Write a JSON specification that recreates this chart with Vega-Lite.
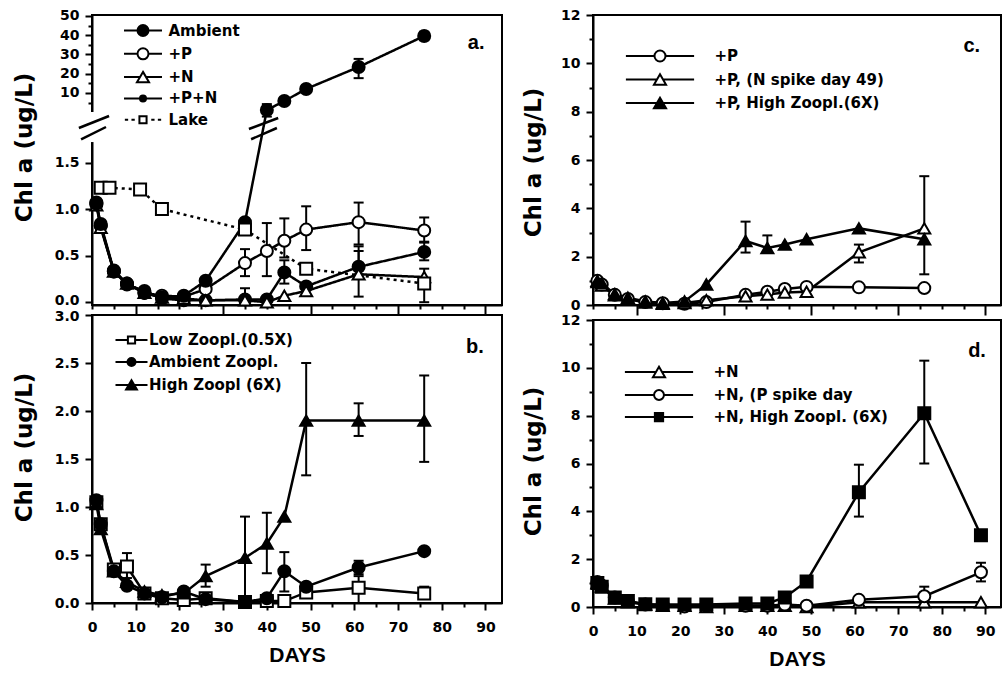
{
"$schema": "https://vega.github.io/schema/vega-lite/v6.json",
"background": "white",
"padding": {"left": 11, "top": 7, "right": 0, "bottom": 0},
"autosize": {"type": "pad"},
"datasets": {
"a": [
{"s":"Ambient","d":1,"v":1.07},{"s":"Ambient","d":2,"v":0.82},{"s":"Ambient","d":5,"v":0.33},{"s":"Ambient","d":8,"v":0.19},{"s":"Ambient","d":12,"v":0.12},{"s":"Ambient","d":16,"v":0.04},{"s":"Ambient","d":21,"v":0.02},{"s":"Ambient","d":26,"v":0.02},{"s":"Ambient","d":35,"v":0.03,"lo":0.0,"hi":0.15},{"s":"Ambient","d":40,"v":0.03},{"s":"Ambient","d":44,"v":0.32,"lo":0.2,"hi":0.45},{"s":"Ambient","d":49,"v":0.17},{"s":"Ambient","d":61,"v":0.38,"lo":0.3,"hi":0.6},{"s":"Ambient","d":76,"v":0.54,"lo":0.45,"hi":0.65},
{"s":"+P","d":1,"v":1.05},{"s":"+P","d":2,"v":0.82},{"s":"+P","d":5,"v":0.33},{"s":"+P","d":8,"v":0.2},{"s":"+P","d":12,"v":0.1},{"s":"+P","d":16,"v":0.07},{"s":"+P","d":21,"v":0.06},{"s":"+P","d":26,"v":0.14},{"s":"+P","d":35,"v":0.42,"lo":0.28,"hi":0.57},{"s":"+P","d":40,"v":0.55,"lo":0.28,"hi":0.85},{"s":"+P","d":44,"v":0.66,"lo":0.48,"hi":0.9},{"s":"+P","d":49,"v":0.78,"lo":0.56,"hi":1.03},{"s":"+P","d":61,"v":0.86,"lo":0.62,"hi":1.07},{"s":"+P","d":76,"v":0.77,"lo":0.64,"hi":0.91},
{"s":"+N","d":1,"v":1.04},{"s":"+N","d":2,"v":0.8},{"s":"+N","d":5,"v":0.33},{"s":"+N","d":8,"v":0.2},{"s":"+N","d":12,"v":0.1},{"s":"+N","d":16,"v":0.05},{"s":"+N","d":21,"v":0.04},{"s":"+N","d":26,"v":0.02},{"s":"+N","d":35,"v":0.02},{"s":"+N","d":40,"v":0.0},{"s":"+N","d":44,"v":0.07},{"s":"+N","d":49,"v":0.12},{"s":"+N","d":61,"v":0.3,"lo":0.06,"hi":0.55},{"s":"+N","d":76,"v":0.27,"lo":0.0,"hi":0.36},
{"s":"+P+N","d":1,"v":1.06},{"s":"+P+N","d":2,"v":0.84},{"s":"+P+N","d":5,"v":0.34},{"s":"+P+N","d":8,"v":0.2},{"s":"+P+N","d":12,"v":0.1},{"s":"+P+N","d":16,"v":0.05},{"s":"+P+N","d":21,"v":0.07},{"s":"+P+N","d":26,"v":0.23},{"s":"+P+N","d":35,"v":0.86},{"s":"+P+N","d":40,"v":4.26,"lo":3.6,"hi":4.85},{"s":"+P+N","d":44,"v":5.8,"lo":5.0,"hi":6.6},{"s":"+P+N","d":49,"v":12.1,"lo":11.2,"hi":13.0},{"s":"+P+N","d":61,"v":23.5,"lo":17.7,"hi":27.7},{"s":"+P+N","d":76,"v":39.6,"lo":37.4,"hi":41.8},
{"s":"Lake","d":2,"v":1.23},{"s":"Lake","d":4,"v":1.23},{"s":"Lake","d":11,"v":1.21},{"s":"Lake","d":16,"v":1.0},{"s":"Lake","d":35,"v":0.78},{"s":"Lake","d":49,"v":0.36},{"s":"Lake","d":76,"v":0.2}
],
"b": [
{"s":"Low Zoopl.(0.5X)","d":1,"v":1.05},{"s":"Low Zoopl.(0.5X)","d":2,"v":0.82},{"s":"Low Zoopl.(0.5X)","d":5,"v":0.35},{"s":"Low Zoopl.(0.5X)","d":8,"v":0.38,"lo":0.26,"hi":0.52},{"s":"Low Zoopl.(0.5X)","d":12,"v":0.1},{"s":"Low Zoopl.(0.5X)","d":16,"v":0.05},{"s":"Low Zoopl.(0.5X)","d":21,"v":0.03},{"s":"Low Zoopl.(0.5X)","d":26,"v":0.05},{"s":"Low Zoopl.(0.5X)","d":35,"v":0.01},{"s":"Low Zoopl.(0.5X)","d":40,"v":0.02},{"s":"Low Zoopl.(0.5X)","d":44,"v":0.02},{"s":"Low Zoopl.(0.5X)","d":49,"v":0.11},{"s":"Low Zoopl.(0.5X)","d":61,"v":0.16,"lo":0.0,"hi":0.28},{"s":"Low Zoopl.(0.5X)","d":76,"v":0.1,"lo":0.05,"hi":0.17},
{"s":"Ambient Zoopl.","d":1,"v":1.07},{"s":"Ambient Zoopl.","d":2,"v":0.82},{"s":"Ambient Zoopl.","d":5,"v":0.33},{"s":"Ambient Zoopl.","d":8,"v":0.18},{"s":"Ambient Zoopl.","d":12,"v":0.1},{"s":"Ambient Zoopl.","d":16,"v":0.06},{"s":"Ambient Zoopl.","d":21,"v":0.12},{"s":"Ambient Zoopl.","d":26,"v":0.04},{"s":"Ambient Zoopl.","d":35,"v":0.01},{"s":"Ambient Zoopl.","d":40,"v":0.05},{"s":"Ambient Zoopl.","d":44,"v":0.33,"lo":0.12,"hi":0.53},{"s":"Ambient Zoopl.","d":49,"v":0.17},{"s":"Ambient Zoopl.","d":61,"v":0.37,"lo":0.3,"hi":0.44},{"s":"Ambient Zoopl.","d":76,"v":0.54},
{"s":"High Zoopl (6X)","d":1,"v":1.03},{"s":"High Zoopl (6X)","d":2,"v":0.77},{"s":"High Zoopl (6X)","d":5,"v":0.33},{"s":"High Zoopl (6X)","d":8,"v":0.22},{"s":"High Zoopl (6X)","d":12,"v":0.12},{"s":"High Zoopl (6X)","d":16,"v":0.08},{"s":"High Zoopl (6X)","d":21,"v":0.1},{"s":"High Zoopl (6X)","d":26,"v":0.28,"lo":0.17,"hi":0.4},{"s":"High Zoopl (6X)","d":35,"v":0.47,"lo":0.02,"hi":0.9},{"s":"High Zoopl (6X)","d":40,"v":0.62,"lo":0.31,"hi":0.94},{"s":"High Zoopl (6X)","d":44,"v":0.9},{"s":"High Zoopl (6X)","d":49,"v":1.9,"lo":1.33,"hi":2.5},{"s":"High Zoopl (6X)","d":61,"v":1.9,"lo":1.74,"hi":2.08},{"s":"High Zoopl (6X)","d":76,"v":1.9,"lo":1.47,"hi":2.37}
],
"c": [
{"s":"+P","d":1,"v":1.0},{"s":"+P","d":2,"v":0.85},{"s":"+P","d":5,"v":0.42},{"s":"+P","d":8,"v":0.25},{"s":"+P","d":12,"v":0.12},{"s":"+P","d":16,"v":0.07},{"s":"+P","d":21,"v":0.05},{"s":"+P","d":26,"v":0.12},{"s":"+P","d":35,"v":0.42},{"s":"+P","d":40,"v":0.55},{"s":"+P","d":44,"v":0.66},{"s":"+P","d":49,"v":0.75},{"s":"+P","d":61,"v":0.73},{"s":"+P","d":76,"v":0.7},
{"s":"+P, (N spike day 49)","d":1,"v":0.95},{"s":"+P, (N spike day 49)","d":2,"v":0.8},{"s":"+P, (N spike day 49)","d":5,"v":0.4},{"s":"+P, (N spike day 49)","d":8,"v":0.25},{"s":"+P, (N spike day 49)","d":12,"v":0.1},{"s":"+P, (N spike day 49)","d":16,"v":0.05},{"s":"+P, (N spike day 49)","d":21,"v":0.08},{"s":"+P, (N spike day 49)","d":26,"v":0.2},{"s":"+P, (N spike day 49)","d":35,"v":0.36},{"s":"+P, (N spike day 49)","d":40,"v":0.43},{"s":"+P, (N spike day 49)","d":44,"v":0.52},{"s":"+P, (N spike day 49)","d":49,"v":0.55},{"s":"+P, (N spike day 49)","d":61,"v":2.18,"lo":1.76,"hi":2.5},{"s":"+P, (N spike day 49)","d":76,"v":3.17,"lo":1.27,"hi":5.33},
{"s":"+P, High Zoopl.(6X)","d":1,"v":1.0},{"s":"+P, High Zoopl.(6X)","d":2,"v":0.9},{"s":"+P, High Zoopl.(6X)","d":5,"v":0.45},{"s":"+P, High Zoopl.(6X)","d":8,"v":0.3},{"s":"+P, High Zoopl.(6X)","d":12,"v":0.15},{"s":"+P, High Zoopl.(6X)","d":16,"v":0.08},{"s":"+P, High Zoopl.(6X)","d":21,"v":0.15},{"s":"+P, High Zoopl.(6X)","d":26,"v":0.85},{"s":"+P, High Zoopl.(6X)","d":35,"v":2.65,"lo":2.17,"hi":3.45},{"s":"+P, High Zoopl.(6X)","d":40,"v":2.36,"lo":2.2,"hi":2.88},{"s":"+P, High Zoopl.(6X)","d":44,"v":2.5},{"s":"+P, High Zoopl.(6X)","d":49,"v":2.72},{"s":"+P, High Zoopl.(6X)","d":61,"v":3.17},{"s":"+P, High Zoopl.(6X)","d":76,"v":2.72}
],
"d": [
{"s":"+N","d":1,"v":1.0},{"s":"+N","d":2,"v":0.85},{"s":"+N","d":5,"v":0.35},{"s":"+N","d":8,"v":0.2},{"s":"+N","d":12,"v":0.1},{"s":"+N","d":16,"v":0.05},{"s":"+N","d":21,"v":0.05},{"s":"+N","d":26,"v":0.0},{"s":"+N","d":35,"v":0.05},{"s":"+N","d":40,"v":0.05},{"s":"+N","d":44,"v":0.05},{"s":"+N","d":49,"v":0.0},{"s":"+N","d":61,"v":0.2},{"s":"+N","d":76,"v":0.2},{"s":"+N","d":89,"v":0.2},
{"s":"+N, (P spike day","d":1,"v":1.05},{"s":"+N, (P spike day","d":2,"v":0.9},{"s":"+N, (P spike day","d":5,"v":0.4},{"s":"+N, (P spike day","d":8,"v":0.25},{"s":"+N, (P spike day","d":12,"v":0.1},{"s":"+N, (P spike day","d":16,"v":0.08},{"s":"+N, (P spike day","d":21,"v":0.02},{"s":"+N, (P spike day","d":26,"v":0.05},{"s":"+N, (P spike day","d":35,"v":0.05},{"s":"+N, (P spike day","d":40,"v":0.05},{"s":"+N, (P spike day","d":44,"v":0.1},{"s":"+N, (P spike day","d":49,"v":0.05},{"s":"+N, (P spike day","d":61,"v":0.3},{"s":"+N, (P spike day","d":76,"v":0.45,"lo":0.1,"hi":0.85},{"s":"+N, (P spike day","d":89,"v":1.45,"lo":1.07,"hi":1.85},
{"s":"+N, High Zoopl. (6X)","d":1,"v":1.0},{"s":"+N, High Zoopl. (6X)","d":2,"v":0.85},{"s":"+N, High Zoopl. (6X)","d":5,"v":0.4},{"s":"+N, High Zoopl. (6X)","d":8,"v":0.25},{"s":"+N, High Zoopl. (6X)","d":12,"v":0.12},{"s":"+N, High Zoopl. (6X)","d":16,"v":0.1},{"s":"+N, High Zoopl. (6X)","d":21,"v":0.1},{"s":"+N, High Zoopl. (6X)","d":26,"v":0.1},{"s":"+N, High Zoopl. (6X)","d":35,"v":0.15},{"s":"+N, High Zoopl. (6X)","d":40,"v":0.15},{"s":"+N, High Zoopl. (6X)","d":44,"v":0.4},{"s":"+N, High Zoopl. (6X)","d":49,"v":1.07},{"s":"+N, High Zoopl. (6X)","d":61,"v":4.8,"lo":3.78,"hi":5.95},{"s":"+N, High Zoopl. (6X)","d":76,"v":8.1,"lo":6.0,"hi":10.3},{"s":"+N, High Zoopl. (6X)","d":89,"v":3.0}
]
},
"hconcat": [
{
"vconcat": [
{
"width": 410, "height": 290,
"data": {"name": "a"},
"encoding": {
"x": {"field": "d", "type": "quantitative", "scale": {"domain": [0, 93.8], "nice": false, "zero": false},
 "axis": {"values": [0,5,10,15,20,25,30,35,40,45,50,55,60,65,70,75,80,85,90], "labels": false, "title": null, "tickSize": {"condition": {"test": "datum.value % 20 === 10", "value": 10}, "value": 4}}},
"y": {"field": "v", "type": "quantitative", "scale": {"domain": [-0.03, 1.8, 5, 50.5], "range": [290, 119.6, 87.6, 0], "nice": false, "zero": false},
 "axis": {"title": "Chl a (ug/L)", "values": [0,0.5,1,1.5,5,10,15,20,25,30,35,40,45,50], "labelExpr": "datum.value < 2 ? format(datum.value, '.1f') : (datum.value % 10 === 0 ? format(datum.value, 'd') : '')", "tickSize": {"condition": {"test": "datum.value > 2 && datum.value % 10 !== 0", "value": 4}, "value": 7}, "labelOffset": {"condition": {"test": "datum.value === 0", "value": -1.5}, "value": 0}, "labelPadding": 6, "titleX": -68, "titleY": 132, "titleBaseline": "middle"}}
},
"layer": [
{"transform": [{"filter": "datum.s === 'Ambient' && datum.d === 1"}], "mark": {"type": "rule", "color": "white", "strokeWidth": 6}, "encoding": {"x": {"datum": 0}, "y": {"datum": 1.72}, "y2": {"datum": 4.06}}},
{"transform": [{"filter": "datum.s === 'Ambient' && datum.d === 1"}], "mark": {"type": "rule", "color": "black", "strokeWidth": 2.5}, "encoding": {"x": {"datum": -3.0}, "x2": {"datum": 3.9}, "y": {"datum": 2.46}, "y2": {"datum": 3.66}}},
{"transform": [{"filter": "datum.s === 'Ambient' && datum.d === 1"}], "mark": {"type": "rule", "color": "black", "strokeWidth": 2.5}, "encoding": {"x": {"datum": -2.5}, "x2": {"datum": 3.2}, "y": {"datum": 1.75}, "y2": {"datum": 2.56}}},
{"transform": [{"filter": "datum.s === 'Ambient' && datum.d === 1"}], "mark": {"type": "rule", "color": "black", "strokeWidth": 2.5}, "encoding": {"x": {"datum": 35.9}, "x2": {"datum": 42.6}, "y": {"datum": 2.36}, "y2": {"datum": 3.46}}},
{"transform": [{"filter": "datum.s === 'Ambient' && datum.d === 1"}], "mark": {"type": "rule", "color": "black", "strokeWidth": 2.5}, "encoding": {"x": {"datum": 36.4}, "x2": {"datum": 42.3}, "y": {"datum": 1.75}, "y2": {"datum": 2.46}}},
{"transform": [{"filter": "isValid(datum.lo)"}],
 "layer": [
  {"mark": {"type": "rule", "color": "black", "strokeWidth": 2}, "encoding": {"y": {"field": "lo", "type": "quantitative"}, "y2": {"field": "hi"}}},
  {"mark": {"type": "tick", "orient": "horizontal", "color": "black", "thickness": 2, "size": 10, "opacity": 1}, "encoding": {"y": {"field": "lo", "type": "quantitative"}}},
  {"mark": {"type": "tick", "orient": "horizontal", "color": "black", "thickness": 2, "size": 10, "opacity": 1}, "encoding": {"y": {"field": "hi", "type": "quantitative"}}}
 ]},
{"mark": {"type": "line", "color": "black", "strokeWidth": 2.5},
 "encoding": {"strokeDash": {"field": "s", "type": "nominal", "scale": {"domain": ["Ambient","+P","+N","+P+N","Lake"], "range": [[1,0],[1,0],[1,0],[1,0],[3,4]]}, "legend": null}}},
{"mark": {"type": "point", "filled": false, "stroke": "black", "strokeWidth": 2, "opacity": 1},
 "encoding": {
  "shape": {"field": "s", "type": "nominal", "scale": {"domain": ["Ambient","+P","+N","+P+N","Lake"], "range": ["circle","circle","triangle-up","circle","square"]}, "legend": null},
  "fill": {"field": "s", "type": "nominal", "scale": {"domain": ["Ambient","+P","+N","+P+N","Lake"], "range": ["black","white","white","black","white"]}, "legend": null},
  "size": {"field": "s", "type": "ordinal", "scale": {"domain": ["Ambient","+P","+N","+P+N","Lake"], "range": [144,144,169,49,64]}, "legend": null}
 }},
{"data": {"values": []},
 "mark": {"type": "point", "filled": false, "strokeWidth": 2, "opacity": 1, "size": 121},
 "encoding": {
  "shape": {"field": "s", "type": "nominal", "scale": {"domain": ["Ambient","+P","+N","+P+N","Lake"], "range": [
   "M-3.45,0H-1A1,1,0,1,0,1,0A1,1,0,1,0,-1,0M1,0H3.45",
   "M-3.45,0H-1A1,1,0,1,0,1,0A1,1,0,1,0,-1,0M1,0H3.45",
   "M-3.45,0H-0.55M0.55,0H3.45M0,-0.95L1.1,0.95L-1.1,0.95Z",
   "M-3.45,0H-0.55A0.55,0.55,0,1,0,0.55,0A0.55,0.55,0,1,0,-0.55,0M0.55,0H3.45",
   "M-3.3,0H-2.7M-2.1,0H-1.5M-0.65,-0.65H0.65V0.65H-0.65ZM1.5,0H2.1M2.7,0H3.3"]},
   "legend": {"title": null, "orient": "none", "legendX": 31, "legendY": 8, "symbolSize": 121, "symbolOffset": 12.5, "labelOffset": 18, "rowPadding": 4.3, "labelLimit": 300, "symbolStrokeWidth": 2}},
  "fill": {"field": "s", "type": "nominal", "scale": {"domain": ["Ambient","+P","+N","+P+N","Lake"], "range": ["black","white","white","black","white"]},
   "legend": {"title": null, "orient": "none", "legendX": 31, "legendY": 8, "symbolSize": 121, "symbolOffset": 12.5, "labelOffset": 18, "rowPadding": 4.3, "labelLimit": 300, "symbolStrokeWidth": 2}},
  "stroke": {"field": "s", "type": "nominal", "scale": {"domain": ["Ambient","+P","+N","+P+N","Lake"], "range": ["black","black","black","black","black"]},
   "legend": {"title": null, "orient": "none", "legendX": 31, "legendY": 8, "symbolSize": 121, "symbolOffset": 12.5, "labelOffset": 18, "rowPadding": 4.3, "labelLimit": 300, "symbolStrokeWidth": 2}}
 }},
{"transform": [{"filter": "datum.s === 'Ambient' && datum.d === 1"}], "mark": {"type": "text", "font": "Liberation Sans", "fontWeight": "bold", "fontSize": 20, "align": "center", "baseline": "middle", "color": "black"},
 "encoding": {"x": {"datum": 87.9}, "y": {"datum": 36}, "text": {"value": "a."}}}
],
"resolve": {"scale": {"shape": "independent", "fill": "independent", "stroke": "independent"}}
},
{
"width": 410, "height": 288,
"data": {"name": "b"},
"encoding": {
"x": {"field": "d", "type": "quantitative", "scale": {"domain": [0, 93.8], "nice": false, "zero": false},
 "axis": {"title": "DAYS", "values": [0,5,10,15,20,25,30,35,40,45,50,55,60,65,70,75,80,85,90], "labelExpr": "datum.value % 10 === 0 ? datum.label : ''", "tickSize": {"condition": {"test": "datum.value % 10 !== 0", "value": 4}, "value": 7}, "labelPadding": 10, "titleFont": "Liberation Sans", "titleFontSize": 21, "titleFontWeight": "bold", "titlePadding": 10}},
"y": {"field": "v", "type": "quantitative", "scale": {"domain": [0, 3], "nice": false, "zero": false},
 "axis": {"title": "Chl a (ug/L)", "values": [0,0.5,1,1.5,2,2.5,3], "format": ".1f", "tickSize": 7, "labelOffset": {"condition": {"test": "datum.value === 3", "value": 1.5}, "value": 0}, "labelPadding": 6, "titleX": -68, "titleY": 132, "titleBaseline": "middle"}}
},
"layer": [
{"transform": [{"filter": "isValid(datum.lo)"}],
 "layer": [
  {"mark": {"type": "rule", "color": "black", "strokeWidth": 2}, "encoding": {"y": {"field": "lo", "type": "quantitative"}, "y2": {"field": "hi"}}},
  {"mark": {"type": "tick", "orient": "horizontal", "color": "black", "thickness": 2, "size": 10, "opacity": 1}, "encoding": {"y": {"field": "lo", "type": "quantitative"}}},
  {"mark": {"type": "tick", "orient": "horizontal", "color": "black", "thickness": 2, "size": 10, "opacity": 1}, "encoding": {"y": {"field": "hi", "type": "quantitative"}}}
 ]},
{"mark": {"type": "line", "color": "black", "strokeWidth": 2.5}, "encoding": {"detail": {"field": "s"}}},
{"mark": {"type": "point", "filled": false, "stroke": "black", "strokeWidth": 2, "opacity": 1},
 "encoding": {
  "shape": {"field": "s", "type": "nominal", "scale": {"domain": ["Low Zoopl.(0.5X)","Ambient Zoopl.","High Zoopl (6X)"], "range": ["square","circle","triangle-up"]}, "legend": null},
  "fill": {"field": "s", "type": "nominal", "scale": {"domain": ["Low Zoopl.(0.5X)","Ambient Zoopl.","High Zoopl (6X)"], "range": ["white","black","black"]}, "legend": null},
  "size": {"field": "s", "type": "ordinal", "scale": {"domain": ["Low Zoopl.(0.5X)","Ambient Zoopl.","High Zoopl (6X)"], "range": [64,100,144]}, "legend": null}
 }},
{"data": {"values": []},
 "mark": {"type": "point", "filled": false, "strokeWidth": 2, "opacity": 1, "size": 64},
 "encoding": {
  "shape": {"field": "s", "type": "nominal", "scale": {"domain": ["Low Zoopl.(0.5X)","Ambient Zoopl.","High Zoopl (6X)"], "range": [
   "M-4,0H-0.9M0.9,0H4M-0.9,-0.9H0.9V0.9H-0.9Z",
   "M-4,0H-1A1,1,0,1,0,1,0A1,1,0,1,0,-1,0M1,0H4",
   "M-4,0H4M0,-1.2L1.35,1.1L-1.35,1.1Z"]},
   "legend": {"title": null, "orient": "none", "legendX": 21, "legendY": 17.5, "symbolSize": 64, "symbolOffset": 11, "labelOffset": 10, "rowPadding": 5, "labelLimit": 300, "symbolStrokeWidth": 2}},
  "fill": {"field": "s", "type": "nominal", "scale": {"domain": ["Low Zoopl.(0.5X)","Ambient Zoopl.","High Zoopl (6X)"], "range": ["white","black","black"]},
   "legend": {"title": null, "orient": "none", "legendX": 21, "legendY": 17.5, "symbolSize": 64, "symbolOffset": 11, "labelOffset": 10, "rowPadding": 5, "labelLimit": 300, "symbolStrokeWidth": 2}},
  "stroke": {"field": "s", "type": "nominal", "scale": {"domain": ["Low Zoopl.(0.5X)","Ambient Zoopl.","High Zoopl (6X)"], "range": ["black","black","black"]},
   "legend": {"title": null, "orient": "none", "legendX": 21, "legendY": 17.5, "symbolSize": 64, "symbolOffset": 11, "labelOffset": 10, "rowPadding": 5, "labelLimit": 300, "symbolStrokeWidth": 2}}
 }},
{"transform": [{"filter": "datum.s === 'Ambient Zoopl.' && datum.d === 1"}], "mark": {"type": "text", "font": "Liberation Sans", "fontWeight": "bold", "fontSize": 20, "align": "center", "baseline": "middle", "color": "black"},
 "encoding": {"x": {"datum": 87.6}, "y": {"datum": 2.67}, "text": {"value": "b."}}}
],
"resolve": {"scale": {"shape": "independent", "fill": "independent", "stroke": "independent"}}
}
],
"spacing": 10,
"bounds": "flush"
},
{
"vconcat": [
{
"width": 408, "height": 290,
"data": {"name": "c"},
"encoding": {
"x": {"field": "d", "type": "quantitative", "scale": {"domain": [0, 93.6], "nice": false, "zero": false},
 "axis": {"values": [0,5,10,15,20,25,30,35,40,45,50,55,60,65,70,75,80,85,90], "labels": false, "title": null, "tickSize": {"condition": {"test": "datum.value % 20 === 10", "value": 10}, "value": 4}}},
"y": {"field": "v", "type": "quantitative", "scale": {"domain": [0, 12], "nice": false, "zero": false},
 "axis": {"title": "Chl a (ug/L)", "values": [0,1,2,3,4,5,6,7,8,9,10,11,12], "labelExpr": "datum.value % 2 === 0 ? datum.label : ''", "tickSize": {"condition": {"test": "datum.value % 2 !== 0", "value": 4}, "value": 7}, "labelPadding": 6, "titleX": -60, "titleY": 147, "titleBaseline": "middle"}}
},
"layer": [
{"transform": [{"filter": "isValid(datum.lo)"}],
 "layer": [
  {"mark": {"type": "rule", "color": "black", "strokeWidth": 2}, "encoding": {"y": {"field": "lo", "type": "quantitative"}, "y2": {"field": "hi"}}},
  {"mark": {"type": "tick", "orient": "horizontal", "color": "black", "thickness": 2, "size": 10, "opacity": 1}, "encoding": {"y": {"field": "lo", "type": "quantitative"}}},
  {"mark": {"type": "tick", "orient": "horizontal", "color": "black", "thickness": 2, "size": 10, "opacity": 1}, "encoding": {"y": {"field": "hi", "type": "quantitative"}}}
 ]},
{"mark": {"type": "line", "color": "black", "strokeWidth": 2.5}, "encoding": {"detail": {"field": "s"}}},
{"mark": {"type": "point", "filled": false, "stroke": "black", "strokeWidth": 2, "opacity": 1},
 "encoding": {
  "shape": {"field": "s", "type": "nominal", "scale": {"domain": ["+P","+P, (N spike day 49)","+P, High Zoopl.(6X)"], "range": ["circle","triangle-up","triangle-up"]}, "legend": null},
  "fill": {"field": "s", "type": "nominal", "scale": {"domain": ["+P","+P, (N spike day 49)","+P, High Zoopl.(6X)"], "range": ["white","white","black"]}, "legend": null},
  "size": {"field": "s", "type": "ordinal", "scale": {"domain": ["+P","+P, (N spike day 49)","+P, High Zoopl.(6X)"], "range": [144,169,169]}, "legend": null}
 }},
{"data": {"values": []},
 "mark": {"type": "point", "filled": false, "strokeWidth": 2, "opacity": 1, "size": 121},
 "encoding": {
  "shape": {"field": "s", "type": "nominal", "scale": {"domain": ["+P","+P, (N spike day 49)","+P, High Zoopl.(6X)"], "range": [
   "M-6.2,0H-1A1,1,0,1,0,1,0A1,1,0,1,0,-1,0M1,0H6.2",
   "M-6.2,0H-0.55M0.55,0H6.2M0,-0.95L1.1,0.95L-1.1,0.95Z",
   "M-6.2,0H6.2M0,-0.95L1.1,0.95L-1.1,0.95Z"]},
   "legend": {"title": null, "orient": "none", "legendX": 32, "legendY": 33.5, "symbolSize": 121, "symbolOffset": 27.5, "labelOffset": 47, "rowPadding": 4.5, "labelLimit": 300, "symbolStrokeWidth": 2}},
  "fill": {"field": "s", "type": "nominal", "scale": {"domain": ["+P","+P, (N spike day 49)","+P, High Zoopl.(6X)"], "range": ["white","white","black"]},
   "legend": {"title": null, "orient": "none", "legendX": 32, "legendY": 33.5, "symbolSize": 121, "symbolOffset": 27.5, "labelOffset": 47, "rowPadding": 4.5, "labelLimit": 300, "symbolStrokeWidth": 2}},
  "stroke": {"field": "s", "type": "nominal", "scale": {"domain": ["+P","+P, (N spike day 49)","+P, High Zoopl.(6X)"], "range": ["black","black","black"]},
   "legend": {"title": null, "orient": "none", "legendX": 32, "legendY": 33.5, "symbolSize": 121, "symbolOffset": 27.5, "labelOffset": 47, "rowPadding": 4.5, "labelLimit": 300, "symbolStrokeWidth": 2}}
 }},
{"transform": [{"filter": "datum.s === '+P' && datum.d === 1"}], "mark": {"type": "text", "font": "Liberation Sans", "fontWeight": "bold", "fontSize": 20, "align": "center", "baseline": "middle", "color": "black"},
 "encoding": {"x": {"datum": 86.9}, "y": {"datum": 10.7}, "text": {"value": "c."}}}
],
"resolve": {"scale": {"shape": "independent", "fill": "independent", "stroke": "independent"}}
},
{
"width": 408, "height": 287,
"data": {"name": "d"},
"encoding": {
"x": {"field": "d", "type": "quantitative", "scale": {"domain": [0, 93.6], "nice": false, "zero": false},
 "axis": {"title": "DAYS", "values": [0,5,10,15,20,25,30,35,40,45,50,55,60,65,70,75,80,85,90], "labelExpr": "datum.value % 10 === 0 ? datum.label : ''", "tickSize": {"condition": {"test": "datum.value % 10 !== 0", "value": 4}, "value": 7}, "labelPadding": 10, "titleFont": "Liberation Sans", "titleFontSize": 21, "titleFontWeight": "bold", "titlePadding": 10}},
"y": {"field": "v", "type": "quantitative", "scale": {"domain": [0, 12], "nice": false, "zero": false},
 "axis": {"title": "Chl a (ug/L)", "values": [0,1,2,3,4,5,6,7,8,9,10,11,12], "labelExpr": "datum.value % 2 === 0 ? datum.label : ''", "tickSize": {"condition": {"test": "datum.value % 2 !== 0", "value": 4}, "value": 7}, "labelPadding": 6, "titleX": -60, "titleY": 141, "titleBaseline": "middle"}}
},
"layer": [
{"transform": [{"filter": "isValid(datum.lo)"}],
 "layer": [
  {"mark": {"type": "rule", "color": "black", "strokeWidth": 2}, "encoding": {"y": {"field": "lo", "type": "quantitative"}, "y2": {"field": "hi"}}},
  {"mark": {"type": "tick", "orient": "horizontal", "color": "black", "thickness": 2, "size": 10, "opacity": 1}, "encoding": {"y": {"field": "lo", "type": "quantitative"}}},
  {"mark": {"type": "tick", "orient": "horizontal", "color": "black", "thickness": 2, "size": 10, "opacity": 1}, "encoding": {"y": {"field": "hi", "type": "quantitative"}}}
 ]},
{"mark": {"type": "line", "color": "black", "strokeWidth": 2.5}, "encoding": {"detail": {"field": "s"}}},
{"mark": {"type": "point", "filled": false, "stroke": "black", "strokeWidth": 2, "opacity": 1},
 "encoding": {
  "shape": {"field": "s", "type": "nominal", "scale": {"domain": ["+N","+N, (P spike day","+N, High Zoopl. (6X)"], "range": ["triangle-up","circle","square"]}, "legend": null},
  "fill": {"field": "s", "type": "nominal", "scale": {"domain": ["+N","+N, (P spike day","+N, High Zoopl. (6X)"], "range": ["white","white","black"]}, "legend": null},
  "size": {"field": "s", "type": "ordinal", "scale": {"domain": ["+N","+N, (P spike day","+N, High Zoopl. (6X)"], "range": [144,100,100]}, "legend": null}
 }},
{"data": {"values": []},
 "mark": {"type": "point", "filled": false, "strokeWidth": 2, "opacity": 1, "size": 121},
 "encoding": {
  "shape": {"field": "s", "type": "nominal", "scale": {"domain": ["+N","+N, (P spike day","+N, High Zoopl. (6X)"], "range": [
   "M-6.2,0H-0.55M0.55,0H6.2M0,-0.95L1.1,0.95L-1.1,0.95Z",
   "M-6.2,0H-0.9A0.9,0.9,0,1,0,0.9,0A0.9,0.9,0,1,0,-0.9,0M0.9,0H6.2",
   "M-6.2,0H6.2M-0.75,-0.75H0.75V0.75H-0.75Z"]},
   "legend": {"title": null, "orient": "none", "legendX": 31, "legendY": 44.5, "symbolSize": 121, "symbolOffset": 27.5, "labelOffset": 47, "rowPadding": 4, "labelLimit": 300, "symbolStrokeWidth": 2}},
  "fill": {"field": "s", "type": "nominal", "scale": {"domain": ["+N","+N, (P spike day","+N, High Zoopl. (6X)"], "range": ["white","white","black"]},
   "legend": {"title": null, "orient": "none", "legendX": 31, "legendY": 44.5, "symbolSize": 121, "symbolOffset": 27.5, "labelOffset": 47, "rowPadding": 4, "labelLimit": 300, "symbolStrokeWidth": 2}},
  "stroke": {"field": "s", "type": "nominal", "scale": {"domain": ["+N","+N, (P spike day","+N, High Zoopl. (6X)"], "range": ["black","black","black"]},
   "legend": {"title": null, "orient": "none", "legendX": 31, "legendY": 44.5, "symbolSize": 121, "symbolOffset": 27.5, "labelOffset": 47, "rowPadding": 4, "labelLimit": 300, "symbolStrokeWidth": 2}}
 }},
{"transform": [{"filter": "datum.s === '+N' && datum.d === 1"}], "mark": {"type": "text", "font": "Liberation Sans", "fontWeight": "bold", "fontSize": 20, "align": "center", "baseline": "middle", "color": "black"},
 "encoding": {"x": {"datum": 88.1}, "y": {"datum": 10.7}, "text": {"value": "d."}}}
],
"resolve": {"scale": {"shape": "independent", "fill": "independent", "stroke": "independent"}}
}
],
"spacing": 15,
"bounds": "flush"
}
],
"spacing": 18,
"config": {
"view": {"stroke": "black", "strokeWidth": 2},
"axis": {"grid": false, "domainColor": "black", "domainWidth": 2, "tickColor": "black", "tickWidth": 2, "labelColor": "black", "labelFont": "DejaVu Sans", "labelFontWeight": "bold", "labelFontSize": 14, "labelFlush": false, "labelOverlap": false, "titleColor": "black", "titleFont": "DejaVu Sans", "titleFontWeight": "bold", "titleFontSize": 23},
"legend": {"labelFont": "DejaVu Sans", "labelFontWeight": "bold", "labelFontSize": 15, "labelColor": "black", "padding": 0}
}
}
